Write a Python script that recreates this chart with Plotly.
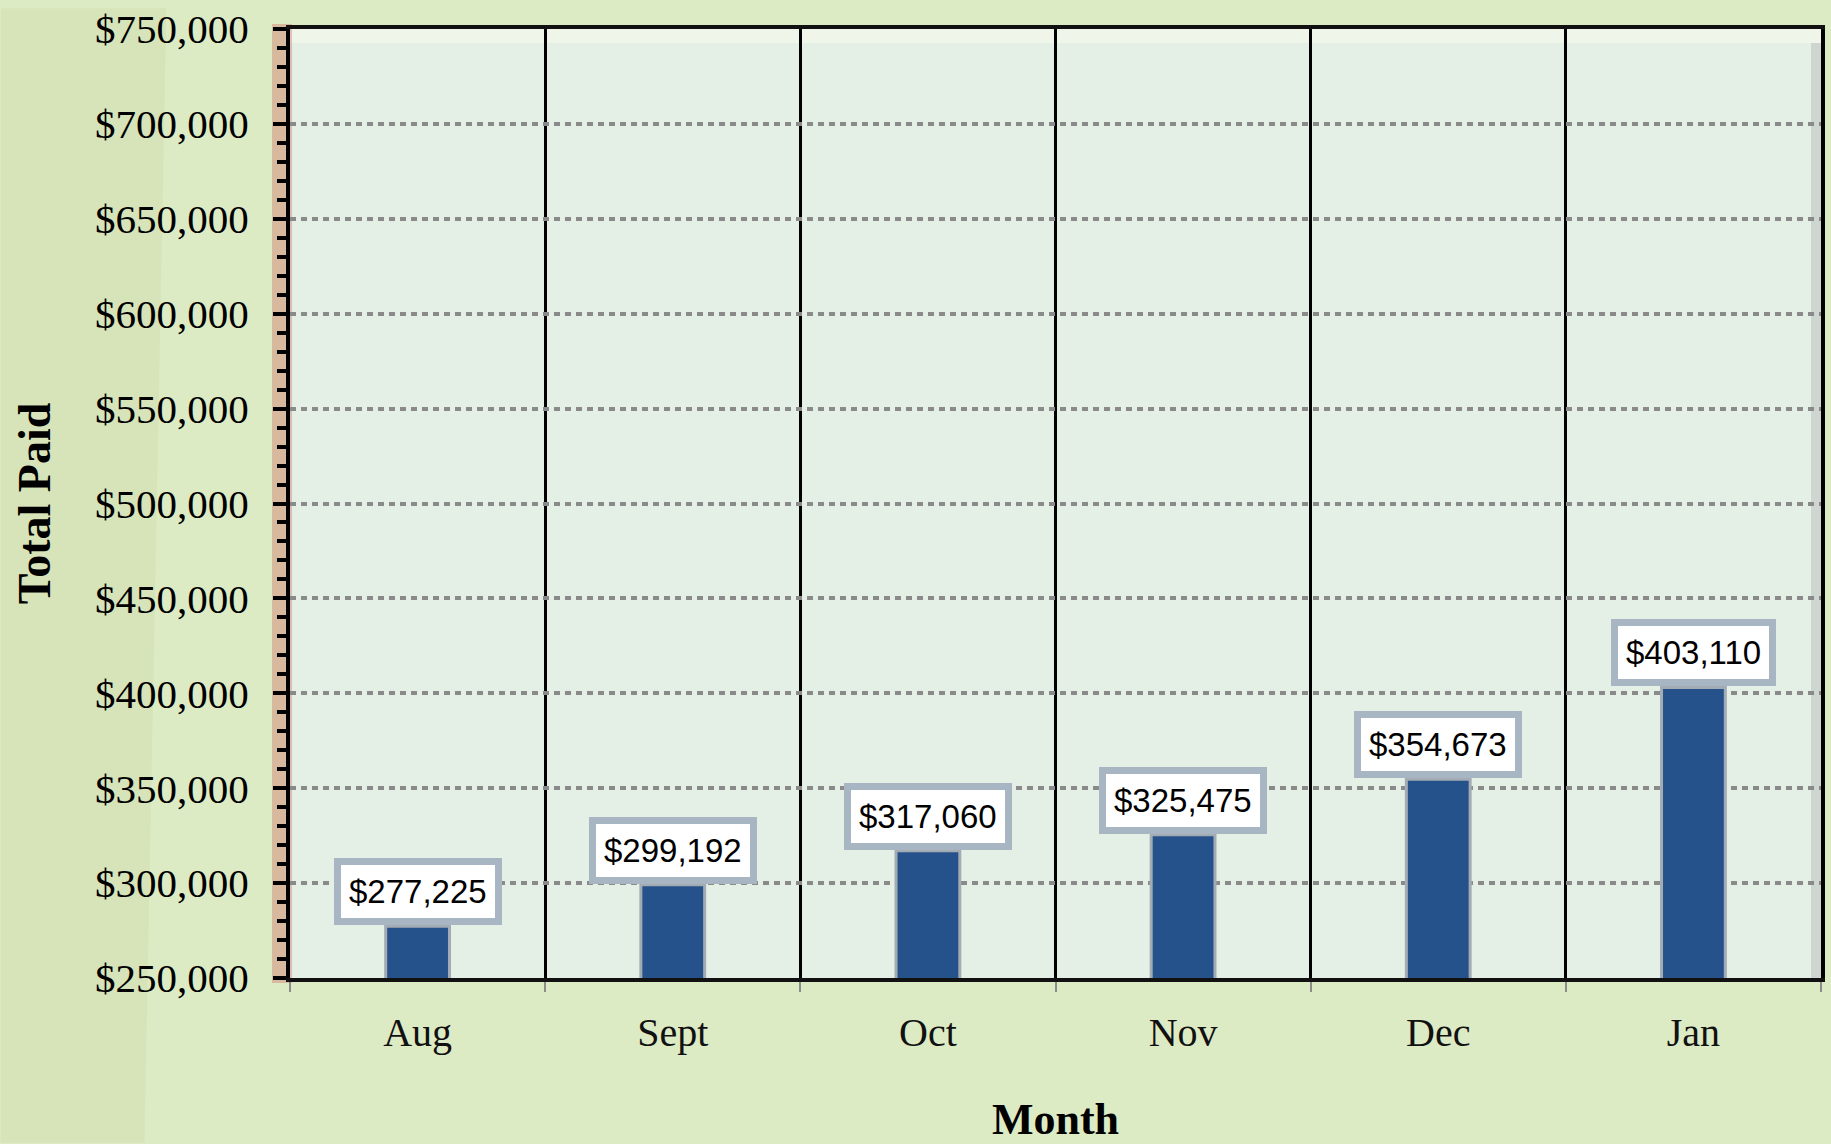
import plotly.graph_objects as go

months = ["Aug", "Sept", "Oct", "Nov", "Dec", "Jan"]
total_paid = [277225, 299192, 317060, 325475, 354673, 403110]
y_min, y_max, y_step = 250000, 750000, 50000

W, H = 1831, 1144
ML, MR, MT, MB = 290, 6, 21, 166
PW = W - ML - MR
PH = H - MT - MB

fig = go.Figure()
fig.add_trace(go.Bar(
    x=months, y=total_paid,
    marker=dict(color="#26528B", line=dict(color="#A3ABB4", width=3)),
    hoverinfo="skip",
))

annotations = []
for m, v in zip(months, total_paid):
    annotations.append(dict(
        x=m, y=v, xref="x", yref="y", yanchor="bottom", yshift=1,
        text=f"${v:,}", showarrow=False,
        font=dict(family="Liberation Sans, Arial", size=33, color="#000"),
        bgcolor="#FFFFFF", bordercolor="#A7B6C2", borderwidth=7, borderpad=8,
    ))

shapes = [
    # left textured strip of the page background
    dict(type="path", xref="paper", yref="paper", layer="below",
         path=f"M {-ML/PW} {1+MT/PH} L {(166-ML)/PW} {1+MT/PH} L {(144-ML)/PW} {-MB/PH} L {-ML/PW} {-MB/PH} Z",
         fillcolor="#D7E3B8", line=dict(width=0)),
    # light band at top of plot area
    dict(type="rect", xref="paper", yref="paper", layer="below",
         x0=0, x1=1, y0=1-14/PH, y1=1,
         fillcolor="#F0F5EA", line=dict(width=0)),
    # shadow on right edge of plot area
    dict(type="rect", xref="paper", yref="paper", layer="below",
         x0=1-10/PW, x1=1, y0=0, y1=1-14/PH,
         fillcolor="#CFD6D1", line=dict(width=0)),
    # red glow along y axis (outside)
    dict(type="line", xref="paper", yref="paper", layer="below",
         x0=-8/PW, x1=-8/PW, y0=-5/PH, y1=1+5/PH,
         line=dict(color="rgba(210,105,95,0.38)", width=20)),
]

fig.update_layout(
    width=W, height=H,
    margin=dict(l=ML, r=MR, t=MT, b=MB),
    paper_bgcolor="#DDEBC4",
    plot_bgcolor="#E4EFE6",
    showlegend=False,
    bargap=0.75,
    annotations=annotations,
    shapes=shapes,
    xaxis=dict(
        type="category",
        tickson="boundaries",
        showgrid=True, gridcolor="#000000", gridwidth=3,
        ticks="outside", ticklen=10, tickwidth=2, tickcolor="#8C8C8C",
        showline=True, linecolor="#111111", linewidth=4, mirror=True,
        tickfont=dict(family="Liberation Serif, Times New Roman", size=40, color="#111"),
        ticklabelstandoff=16,
        title=dict(text="<b>Month</b>", standoff=51,
                   font=dict(family="Liberation Serif, Times New Roman", size=44, color="#000")),
    ),
    yaxis=dict(
        range=[y_min, y_max],
        dtick=y_step, tick0=y_min,
        tickprefix="$", tickformat=",",
        ticklabeloverflow="allow",
        showgrid=True, gridcolor="#8A8A8A", gridwidth=4, griddash="6px,5px",
        ticks="outside", ticklen=13, tickwidth=4, tickcolor="#000",
        minor=dict(dtick=10000, ticks="outside", ticklen=9, tickwidth=4, tickcolor="#000", showgrid=False),
        showline=True, linecolor="#000000", linewidth=4, mirror=True,
        zeroline=False,
        tickfont=dict(family="Liberation Serif, Times New Roman", size=41, color="#000"),
        ticklabelstandoff=16,
        title=dict(text="<b>Total Paid</b>", standoff=31,
                   font=dict(family="Liberation Serif, Times New Roman", size=46, color="#000")),
    ),
)

fig.write_html("out.html", config={"displayModeBar": False},
               post_script="document.body.style.margin='0';document.body.style.overflow='hidden';")
